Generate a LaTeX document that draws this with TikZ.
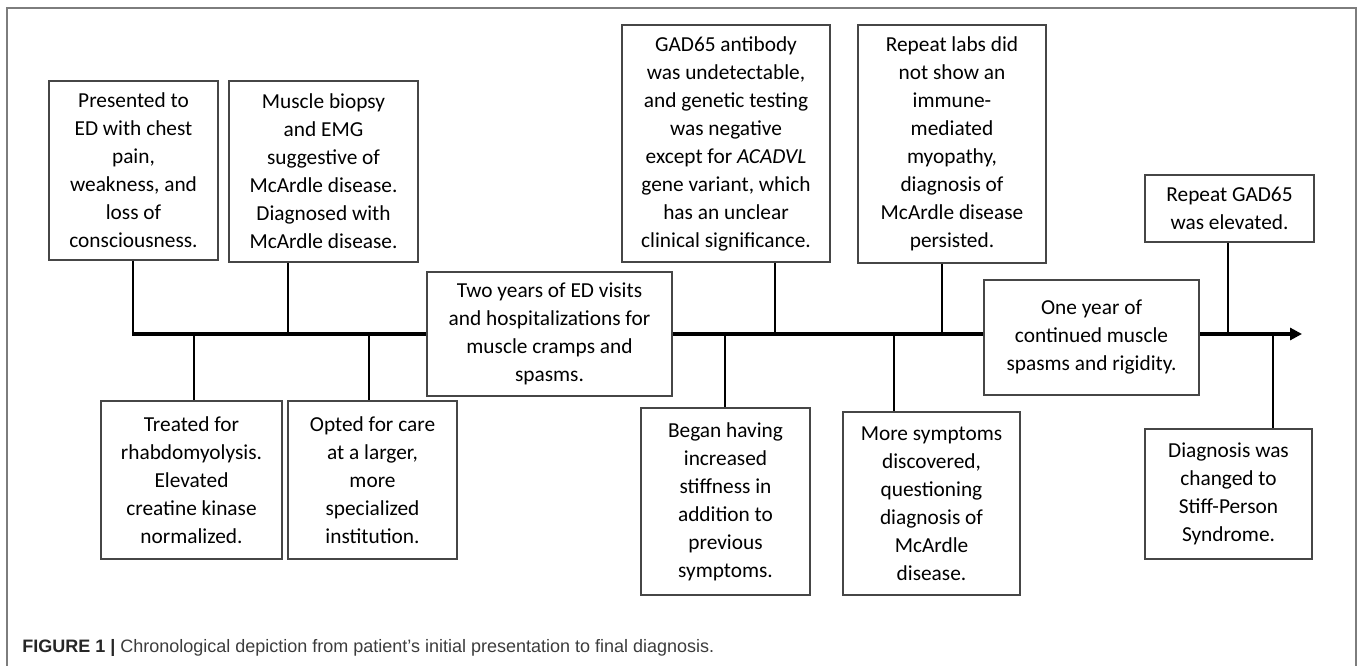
\documentclass[tikz,border=0pt]{standalone}
\usepackage{fontspec}
\setmainfont{Carlito}
\newfontfamily\capfont{Liberation Sans}
\usetikzlibrary{arrows.meta}
\definecolor{framegray}{RGB}{125,125,125}
\definecolor{boxgray}{RGB}{70,70,70}
\definecolor{capgray}{RGB}{60,60,60}

\begin{document}
\begin{tikzpicture}
  [x=0.75pt, y=-0.75pt,
  event/.style={draw=boxgray, line width=0.9pt, fill=white, align=center, inner sep=0pt,
    font=\fontsize{16}{21}\selectfont},
  boxsize/.style 2 args={minimum width=#1*0.75pt, minimum height=#2*0.75pt},
  stem/.style={line width=2pt, black},
  timeline/.style={line width=3pt, black, -{Triangle[length=9pt,width=9pt]}},
  ]
  \useasboundingbox (0,0) rectangle (1357,666);
  \draw[framegray, line width=1.3pt] (7,666) -- (7,8) -- (1356,8) -- (1356,666);

  % points on the time axis
  \coordinate (start) at (132,334);
  \coordinate (stop) at (1302,334);
  \coordinate (t1) at (133,334);
  \coordinate (t2) at (288,334);
  \coordinate (t3) at (775,334);
  \coordinate (t4) at (942,334);
  \coordinate (t5) at (1228,334);
  \coordinate (b1) at (194,334);
  \coordinate (b2) at (369,334);
  \coordinate (b3) at (725,334);
  \coordinate (b4) at (894,334);
  \coordinate (b5) at (1273,334);

  % events above the axis
  \node[event, boxsize={169}{179}] (chest) at (133.5,170.5)
    {Presented to\\ED with chest\\pain,\\weakness, and\\loss of\\consciousness.};
  \node[event, boxsize={189}{181}] (biopsy) at (323.5,171.5)
    {Muscle biopsy\\and EMG\\suggestive of\\McArdle disease.\\Diagnosed with\\McArdle disease.};
  \node[event, boxsize={208}{237}] (antibody) at (726,143.5)
    {GAD65 antibody\\was undetectable,\\and genetic testing\\was negative\\except for \textit{ACADVL}\\gene variant, which\\has an unclear\\clinical significance.};
  \node[event, boxsize={188}{238}] (labs) at (952,144)
    {Repeat labs did\\not show an\\immune-\\mediated\\myopathy,\\diagnosis of\\McArdle disease\\persisted.};
  \node[event, boxsize={169}{67}] (elevated) at (1229.5,208.5)
    {Repeat GAD65\\was elevated.};

  % events below the axis
  \node[event, boxsize={181}{158}] (rhabdo) at (191.5,480)
    {Treated for\\rhabdomyolysis.\\Elevated\\creatine kinase\\normalized.};
  \node[event, boxsize={169}{158}] (care) at (372.5,480)
    {Opted for care\\at a larger,\\more\\specialized\\institution.};
  \node[event, boxsize={169}{187}] (stiff) at (725.5,501.5)
    {Began having\\increased\\stiffness in\\addition to\\previous\\symptoms.};
  \node[event, boxsize={177}{183}] (question) at (931.5,503.5)
    {More symptoms\\discovered,\\questioning\\diagnosis of\\McArdle\\disease.};
  \node[event, boxsize={167}{130}] (sps) at (1228.5,494)
    {Diagnosis was\\changed to\\Stiff-Person\\Syndrome.};

  \draw[stem] (chest.south -| t1) -- (t1);
  \draw[stem] (biopsy.south -| t2) -- (t2);
  \draw[stem] (antibody.south -| t3) -- (t3);
  \draw[stem] (labs.south -| t4) -- (t4);
  \draw[stem] (elevated.south -| t5) -- (t5);
  \draw[stem] (b1) -- (b1 |- rhabdo.north);
  \draw[stem] (b2) -- (b2 |- care.north);
  \draw[stem] (b3) -- (b3 |- stiff.north);
  \draw[stem] (b4) -- (b4 |- question.north);
  \draw[stem] (b5) -- (b5 |- sps.north);

  \draw[timeline] (start) -- (stop);

  % spans lying on the axis
  \node[event, boxsize={245}{124}] (twoyears) at (549.5,334)
    {Two years of ED visits\\and hospitalizations for\\muscle cramps and\\spasms.};
  \node[event, boxsize={215}{115}] (oneyear) at (1091.5,337.5)
    {One year of\\continued muscle\\spasms and rigidity.};

  \node[anchor=base west, inner sep=0pt, text=capgray,
    font=\capfont\fontsize{13.5}{16}\selectfont] (caption) at (22,652)
    {\textbf{\color{black!85}FIGURE 1 |} Chronological depiction from patient’s initial presentation to final diagnosis.};
\end{tikzpicture}
\end{document}
